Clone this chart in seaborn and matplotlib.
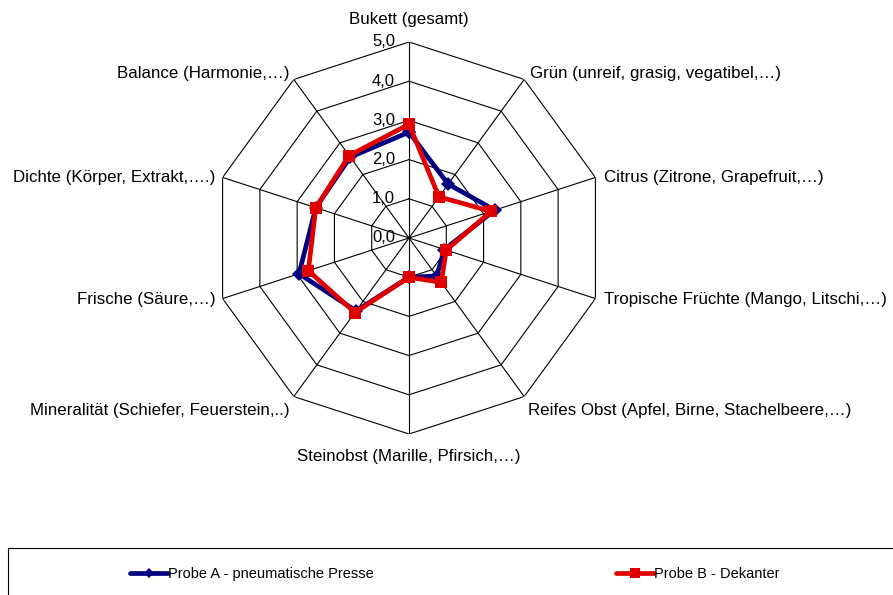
"""
Radar chart: sensorische Bewertung Probe A (pneumatische Presse) vs Probe B (Dekanter).
Output: out.png
"""
import numpy as np
import matplotlib
matplotlib.use("Agg")
import matplotlib.pyplot as plt
from matplotlib.patches import Rectangle
import seaborn as sns

# ── data ─────────────────────────────────────────────────────────────────────
CATEGORIES = [
    "Bukett (gesamt)",
    "Grün (unreif, grasig, vegatibel,…)",
    "Citrus (Zitrone, Grapefruit,…)",
    "Tropische Früchte (Mango, Litschi,…)",
    "Reifes Obst (Apfel, Birne, Stachelbeere,…)",
    "Steinobst (Marille, Pfirsich,…)",
    "Mineralität (Schiefer, Feuerstein,..)",
    "Frische (Säure,…)",
    "Dichte (Körper, Extrakt,….)",
    "Balance (Harmonie,…)",
]
PROBE_A = [2.7, 1.7, 2.3, 0.95, 1.2, 1.0, 2.3, 2.95, 2.5, 2.55]
PROBE_B = [2.9, 1.3, 2.2, 1.0, 1.4, 1.0, 2.35, 2.7, 2.5, 2.6]
LABEL_A = "Probe A - pneumatische Presse"
LABEL_B = "Probe B - Dekanter"
RINGS = [0, 1, 2, 3, 4, 5]
RING_LABELS = ["0,0", "1,0", "2,0", "3,0", "4,0", "5,0"]

COLOR_A = "#000080"
COLOR_B = "#E00000"

sns.set_theme(style="white")
plt.rcParams["font.family"] = ["Liberation Sans", "DejaVu Sans"]
plt.rcParams["text.color"] = "black"

W, H = 893, 595
fig = plt.figure(figsize=(W / 100, H / 100), dpi=100)

# radar centre (409, 238) px, radius 196 px
cx, cy, R = 409, 238, 196
ax = fig.add_axes([(cx - R) / W, (H - cy - R) / H, 2 * R / W, 2 * R / H],
                  projection="polar")
ax.set_theta_offset(np.pi / 2)
ax.set_theta_direction(-1)
ax.set_ylim(0, 5)
ax.grid(False)
ax.spines["polar"].set_visible(False)
ax.set_xticks([])
ax.set_yticks([])
ax.patch.set_alpha(0)

n = len(CATEGORIES)
theta = np.linspace(0, 2 * np.pi, n, endpoint=False)
theta_c = np.append(theta, 2 * np.pi)

# decagon grid + spokes
for r in RINGS[1:]:
    ax.plot(theta_c, [r] * (n + 1), color="black", lw=0.8, zorder=1)
for t in theta:
    ax.plot([t, t], [0, 5], color="black", lw=0.8, zorder=1)

# series
sns.lineplot(x=theta_c, y=PROBE_A + PROBE_A[:1], sort=False, ax=ax,
             color=COLOR_A, lw=3.4, marker="D", markersize=7,
             markeredgewidth=0, label=LABEL_A, zorder=3)
sns.lineplot(x=theta_c, y=PROBE_B + PROBE_B[:1], sort=False, ax=ax,
             color=COLOR_B, lw=3.4, marker="s", markersize=9,
             markeredgewidth=0, label=LABEL_B, zorder=4)
ax.set_xlabel("")
ax.set_ylabel("")
handles, labels = ax.get_legend_handles_labels()
ax.get_legend().remove()

# ring value labels
for r, lab in zip(RINGS, RING_LABELS):
    ax.annotate(lab, xy=(0, r), xytext=(-10, 0), textcoords="offset points",
                ha="right", va="center", fontsize=12, color="black")

# category labels
offsets = [
    (0, 16, "center"), (4, 4, "left"), (6, 0, "left"), (6, -1, "left"),
    (3, -10, "left"), (0, -16, "center"), (-3, -10, "right"),
    (-5, -1, "right"), (-5, 0, "right"), (-3, 4, "right"),
]
for t, lab, (dx, dy, ha) in zip(theta, CATEGORIES, offsets):
    ax.annotate(lab, xy=(t, 5), xytext=(dx, dy), textcoords="offset points",
                ha=ha, va="center", fontsize=12.2, color="black",
                annotation_clip=False)

# legend box at the bottom
fig.add_artist(Rectangle((8 / W, -0.02), 1.0, (H - 548) / H + 0.02,
                         transform=fig.transFigure, fill=False,
                         edgecolor="black", lw=0.8))
fig.legend(handles, labels, loc="center left",
           bbox_to_anchor=(130 / W, 1 - 574 / H), ncol=2, frameon=False,
           fontsize=10.5, handlelength=2.6, handletextpad=0.0,
           columnspacing=16.6, borderpad=0, borderaxespad=0,
           labelcolor="black", markerscale=0.8)

fig.savefig("out.png", dpi=100)
